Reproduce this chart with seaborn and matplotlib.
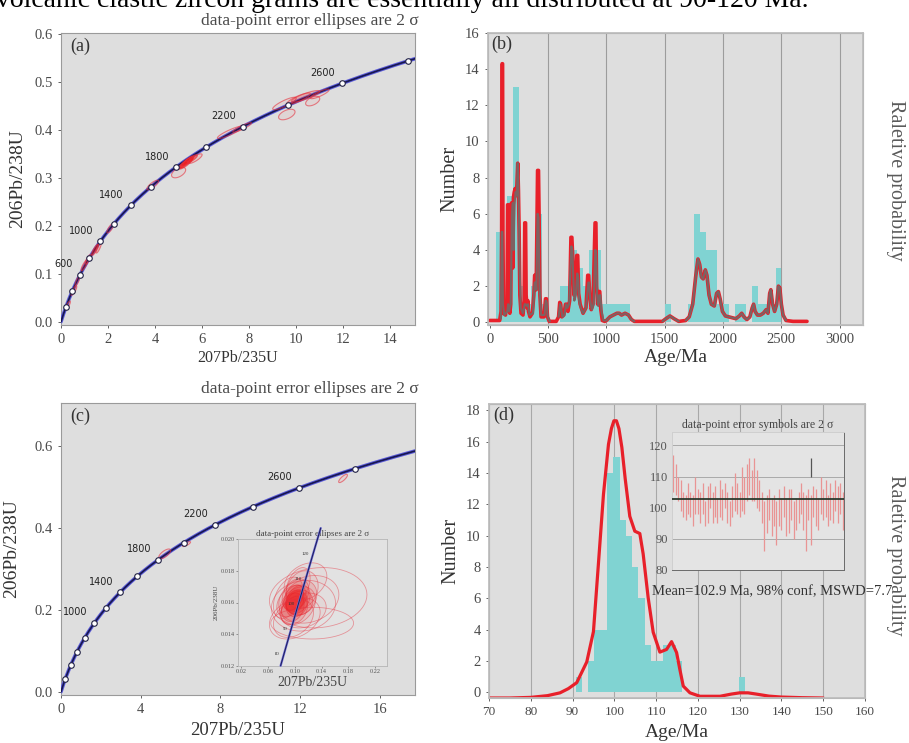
import numpy as np
import pandas as pd
import matplotlib
matplotlib.use("Agg")
import matplotlib.pyplot as plt
import seaborn as sns

# decay constants (1/yr) that define the concordia curve
LAMBDA_238 = 1.55125e-10
LAMBDA_235 = 9.8485e-10

# concordia age marks (Ma)
marker_ages = [200, 400, 600, 800, 1000, 1200, 1400, 1600, 1800, 2000, 2200, 2400, 2600, 2800]
labelled_ages = [600, 1000, 1400, 1800, 2200, 2600]
inset_marker_ages = [80, 90, 100, 110, 120]

# error ellipses: x, y, sx, sy, rho, fill alpha
ellipses_a = [
    (0.30, 0.035, 0.10, 0.008, 0.8, 0.1), (0.55, 0.065, 0.12, 0.010, 0.8, 0.3),
    (0.70, 0.085, 0.10, 0.010, 0.8, 0.1), (1.00, 0.118, 0.15, 0.012, 0.85, 0.3),
    (1.15, 0.130, 0.12, 0.010, 0.8, 0.1), (1.45, 0.150, 0.15, 0.012, 0.85, 0.5),
    (1.60, 0.155, 0.12, 0.012, 0.8, 0.2), (2.10, 0.195, 0.15, 0.010, 0.8, 0.1),
    (3.90, 0.285, 0.25, 0.010, 0.8, 0.05), (5.00, 0.311, 0.30, 0.011, 0.5, 0.05),
    (5.30, 0.330, 0.30, 0.012, 0.85, 0.6), (5.40, 0.335, 0.25, 0.010, 0.85, 0.6),
    (5.50, 0.338, 0.30, 0.010, 0.85, 0.5), (5.20, 0.327, 0.20, 0.008, 0.85, 0.6),
    (5.70, 0.340, 0.30, 0.010, 0.8, 0.1), (7.20, 0.395, 0.55, 0.013, 0.9, 0.05),
    (7.70, 0.405, 0.40, 0.010, 0.9, 0.05), (9.50, 0.455, 0.50, 0.013, 0.85, 0.05),
    (9.60, 0.432, 0.35, 0.011, 0.5, 0.05), (10.1, 0.465, 0.50, 0.012, 0.85, 0.15),
    (10.4, 0.470, 0.60, 0.012, 0.85, 0.15), (10.7, 0.460, 0.30, 0.010, 0.5, 0.05),
    (11.0, 0.475, 0.40, 0.010, 0.85, 0.05),
]
ellipses_c = [(5.2, 0.336, 0.30, 0.012, 0.7, 0.05), (6.3, 0.360, 0.20, 0.006, 0.8, 0.05),
              (14.15, 0.520, 0.22, 0.010, 0.8, 0.05)]
ellipses_c_inset = [
    (0.100, 0.0161, 0.014, 0.0007, 0.3, 0.2), (0.103, 0.0159, 0.016, 0.0008, 0.2, 0.2),
    (0.098, 0.0163, 0.015, 0.0008, 0.4, 0.2), (0.105, 0.0162, 0.018, 0.0009, 0.3, 0.15),
    (0.097, 0.0157, 0.017, 0.0009, 0.2, 0.15), (0.107, 0.0160, 0.020, 0.0008, 0.1, 0.15),
    (0.101, 0.0165, 0.020, 0.0010, 0.3, 0.1), (0.099, 0.0155, 0.020, 0.0009, 0.3, 0.1),
    (0.109, 0.0163, 0.024, 0.0011, 0.2, 0.1), (0.095, 0.0161, 0.022, 0.0010, 0.4, 0.1),
    (0.104, 0.0158, 0.027, 0.0012, 0.3, 0.08), (0.111, 0.0168, 0.024, 0.0012, 0.2, 0.05),
    (0.105, 0.0171, 0.018, 0.0011, 0.4, 0.05), (0.113, 0.0155, 0.034, 0.0011, 0.2, 0.03),
    (0.098, 0.0150, 0.030, 0.0012, 0.3, 0.03), (0.121, 0.0162, 0.045, 0.0015, 0.2, 0.02),
    (0.135, 0.0163, 0.073, 0.0019, 0.1, 0.0), (0.126, 0.0147, 0.062, 0.0010, 0.0, 0.0),
    (0.100, 0.0150, 0.038, 0.0013, 0.3, 0.0), (0.116, 0.0173, 0.032, 0.0012, 0.3, 0.03),
    (0.113, 0.0158, 0.048, 0.0016, 0.1, 0.0), (0.090, 0.0163, 0.022, 0.0013, 0.4, 0.05),
]

# (b) histogram, 50 Ma bins from 0 Ma
b_bin_width = 50
b_counts = [0, 5, 1, 7, 13, 2, 1, 2, 6, 1,
            0, 0, 2, 2, 4, 3, 2, 4, 4, 1,
            1, 1, 1, 1, 0, 0, 0, 0, 0, 0,
            1, 0, 0, 0, 1, 6, 5, 4, 4, 1,
            1, 0, 1, 1, 0, 2, 1, 1, 1, 3, 0]

# (b) probability curves (age Ma, value)
b_young_red_age = [0, 85, 97, 102, 106, 110, 113, 118, 135, 148, 153, 160, 165, 172, 180, 186, 192,
                   197, 203, 210, 218, 225, 233, 240, 246, 252, 258, 268, 285, 295, 300, 307, 312,
                   320, 326, 332, 345, 365, 378, 385, 392, 398, 405, 410, 418, 423, 430, 440, 465,
                   478, 486, 495, 510, 570, 590, 600, 608, 618, 635, 650, 660, 670, 685, 696, 704,
                   712, 722, 735, 746, 754, 762, 775, 800, 825, 840, 848, 858, 870, 885, 897, 903,
                   910, 916, 925, 935, 943, 952, 965, 985]
b_young_red_val = [0.1, 0.1, 0.6, 5.0, 14.3, 14.3, 5.0, 0.5, 0.4, 1.0, 6.5, 6.5, 1.0, 0.5, 1.0, 6.6, 6.6,
                   3.0, 6.9, 7.2, 7.4, 7.0, 7.6, 8.8, 7.3, 5.0, 1.5, 0.5, 0.4, 1.2, 5.5, 5.5, 1.5,
                   0.8, 1.2, 0.6, 0.3, 0.5, 1.5, 2.6, 2.6, 1.8, 5.5, 8.4, 8.4, 6.0, 1.5, 0.3, 0.3,
                   1.3, 1.3, 0.3, 0.05, 0.05, 0.3, 1.1, 1.0, 0.3, 0.4, 1.0, 1.0, 0.6, 1.2, 4.7, 4.7,
                   3.5, 1.5, 2.0, 3.7, 3.7, 1.6, 1.0, 0.5, 0.8, 2.6, 2.6, 1.4, 0.7, 1.0, 4.0, 5.5,
                   5.5, 2.0, 1.0, 1.7, 1.7, 0.7, 0.1, 0.05]
b_gray_young_age = [95, 103, 108, 113, 125, 150, 158, 165, 180, 190, 198, 205, 212, 222, 232, 240, 248,
                    256, 265, 285, 300, 308, 320, 328, 340, 370, 385, 393, 400, 410, 418, 426, 440,
                    470, 480, 488, 497, 515]
b_gray_young_val = [0.2, 5.0, 5.0, 1.0, 0.4, 0.6, 1.0, 0.6, 1.0, 6.0, 6.6, 4.0, 6.5, 7.2, 7.0, 8.8, 7.0,
                    3.0, 0.8, 0.5, 1.0, 1.0, 0.9, 1.0, 0.4, 0.5, 2.2, 2.2, 1.8, 6.0, 5.8, 2.0, 0.4,
                    0.4, 1.2, 1.1, 0.3, 0.05]
b_gray_mid_age = [590, 603, 612, 622, 640, 655, 665, 680, 692, 700, 708, 716, 725, 738, 750, 758, 766,
                  780, 800, 825, 845, 852, 862, 875, 890, 905, 912, 920, 930, 940, 948, 958, 975]
b_gray_mid_val = [0.3, 1.0, 0.8, 0.3, 0.4, 1.0, 0.8, 1.0, 3.0, 4.2, 4.0, 2.5, 1.2, 1.5, 2.7, 2.5, 1.2,
                  0.8, 0.5, 0.8, 2.2, 2.2, 1.2, 0.7, 1.0, 4.0, 3.8, 1.5, 0.9, 1.5, 1.5, 0.6, 0.1]
b_bump_age = [1000, 1030, 1060, 1090, 1110, 1130, 1160, 1190, 1215, 1240]
b_bump_val = [0.1, 0.3, 0.4, 0.5, 0.5, 0.4, 0.5, 0.4, 0.15, 0.05]
b_1500_age = [1480, 1510, 1545, 1580, 1620]
b_1500_val = [0.05, 0.2, 0.35, 0.2, 0.05]
b_old_age = [1680, 1710, 1740, 1765, 1785, 1800, 1815, 1830, 1848, 1862, 1880, 1900, 1925, 1945,
             1960, 1975, 1995, 2020, 2050, 2080, 2110, 2140, 2160, 2180, 2205, 2230, 2250, 2262,
             2275, 2295, 2320, 2345, 2370, 2385, 2400, 2410, 2425, 2442, 2460, 2475, 2487, 2500,
             2515, 2540]
b_old_val = [0.1, 0.3, 1.0, 2.5, 3.5, 3.2, 2.5, 2.4, 2.9, 2.6, 1.5, 1.0, 0.9, 1.6,
             1.7, 1.3, 0.6, 0.35, 0.3, 0.25, 0.2, 0.35, 0.5, 0.3, 0.15, 0.3, 0.8, 1.0,
             0.6, 0.4, 0.4, 0.5, 0.7, 0.5, 1.6, 1.8, 1.0, 0.6, 1.0, 2.0, 1.9, 1.0,
             0.4, 0.1]
b_tail_age = [2600, 2720]
b_tail_val = [0.05, 0.05]

# (d) histogram, 1.5 Ma bins from 90.75 Ma
d_bin_start = 90.75
d_bin_width = 1.5
d_counts = [1, 0, 2, 4, 4, 14, 15, 11, 10, 8, 6, 3, 2, 2, 3, 3, 2,
            0, 0, 0, 0, 0, 0, 0, 0, 0, 1]

# (d) probability curve (age Ma, value above axis bottom)
d_curve_age = [70, 75, 80, 84, 87, 89, 91, 93.4, 95, 96.2, 97.4, 98.6, 99.3, 99.9, 100.5, 101.1,
               101.8, 102.6, 103.7, 104.9, 106.1, 106.9, 108.1, 109.3, 110.9, 112.5, 113.7,
               114.9, 115.7, 116.5, 118.1, 120.5, 125.3, 128, 130, 132, 134, 137, 140, 145, 150]
d_curve_val = [0.0, 0.0, 0.04, 0.15, 0.33, 0.6, 0.98, 2.3, 4.24, 8.6, 13.0, 16.2, 17.2, 17.7, 17.7,
               17.2, 16.0, 14.0, 11.6, 10.65, 10.5, 9.2, 6.4, 4.2, 2.93, 3.1, 3.6,
               2.9, 1.8, 0.76, 0.33, 0.11, 0.11, 0.25, 0.33, 0.33, 0.25, 0.12, 0.06, 0.02, 0.0]

# (d) inset: weighted mean plot, 2 sigma bars
err_center = [111, 109, 106, 104, 101, 100, 103, 101, 99, 104,
              102, 100, 103, 98, 101, 104, 100, 102, 99, 103,
              101, 104, 100, 98, 102, 105, 103, 101, 106, 104,
              108, 110, 107, 109, 106, 104, 100, 94, 98, 101,
              97, 99, 95, 100, 98, 102, 97, 99, 101, 96,
              98, 100, 103, 99, 95, 101, 96, 102, 100, 98,
              104, 101, 103, 99, 102, 100, 104, 101, 103, 99]
err_half = [6, 5, 4, 5, 4, 4, 5, 4, 5, 6,
            4, 5, 5, 4, 6, 4, 5, 5, 4, 6,
            5, 4, 5, 4, 5, 6, 5, 4, 7, 6,
            6, 6, 5, 7, 6, 5, 5, 8, 6, 5,
            6, 5, 7, 6, 5, 5, 6, 7, 5, 6,
            5, 5, 5, 6, 9, 5, 8, 5, 6, 5,
            6, 5, 6, 5, 6, 5, 5, 6, 5, 6]
rejected_x = [56.5]
rejected_lo = [110]
rejected_hi = [116]
mean_age = 102.9

BG = "#dedede"
CYAN = "#80d3d2"
RED = "#e8202a"
GRAY_LINE = "#7d6262"
TXT = "#4a4a4a"


def concordia(age_ma):
    t = np.asarray(age_ma, dtype=float) * 1e6
    return np.exp(LAMBDA_235 * t) - 1, np.exp(LAMBDA_238 * t) - 1


def ellipse_xy(cx, cy, sx, sy, rho, n=60):
    t = np.linspace(0, 2 * np.pi, n)
    return cx + sx * np.cos(t), cy + sy * (rho * np.cos(t) + np.sqrt(1 - rho ** 2) * np.sin(t))


def style_axes(ax, bg=BG):
    ax.set_facecolor(bg)
    for s in ax.spines.values():
        s.set_color("#9a9a9a")
        s.set_linewidth(0.8)
    ax.tick_params(colors=TXT, labelsize=10.5, length=2.5, width=0.6)


sns.set_theme(style="ticks")
plt.rcParams["font.family"] = ["Liberation Serif", "DejaVu Serif"]

fig = plt.figure(figsize=(9.09, 7.43), dpi=100)
W, H = 909, 743


def box(l, t, r, b):
    return [l / W, 1 - b / H, (r - l) / W, (b - t) / H]


# the sentence above the figure, cut by the top edge as in the source
fig.text(-0.004, 1 - 7 / H, "volcanic clastic zircon grains are essentially all distributed at 90-120 Ma.",
         fontsize=20, color="black", va="baseline", ha="left")


def draw_concordia(ax, max_age, labels, fs=7):
    x, y = concordia(np.linspace(0, max_age, 400))
    sns.lineplot(x=x, y=y, ax=ax, color="#5a5ad8", lw=2.6, sort=False, estimator=None, zorder=3)
    sns.lineplot(x=x, y=y, ax=ax, color="#17174f", lw=1.2, sort=False, estimator=None, zorder=4)
    mx, my = concordia(marker_ages)
    sns.scatterplot(x=mx, y=my, ax=ax, s=16, color="white", edgecolor="#222244",
                    linewidth=0.8, zorder=6)
    for a in labels:
        lx, ly = concordia(a)
        ax.annotate(str(a), (lx, ly), xytext=(-5, 4), textcoords="offset points",
                    ha="right", va="bottom", fontsize=fs, family="DejaVu Sans", color="#222222")


def draw_ellipses(ax, ells, edge_alpha=0.6, lw=0.8):
    for cx, cy, sx, sy, rho, fa in ells:
        ex, ey = ellipse_xy(cx, cy, sx, sy, rho)
        ax.fill(ex, ey, facecolor=(0.95, 0.1, 0.1, fa),
                edgecolor=(0.9, 0.2, 0.25, edge_alpha), lw=lw, zorder=5)


# ---------------- (a)
ax_a = fig.add_axes(box(61, 33, 415, 325))
style_axes(ax_a)
draw_ellipses(ax_a, ellipses_a)
draw_concordia(ax_a, 2900, labelled_ages)
ax_a.set_xlim(0, 15.05)
ax_a.set_ylim(-0.007, 0.602)
ax_a.set_xticks(range(0, 15, 2))
ax_a.set_yticks([0, 0.1, 0.2, 0.3, 0.4, 0.5, 0.6])
ax_a.set_yticklabels(["0.0", "0.1", "0.2", "0.3", "0.4", "0.5", "0.6"])
ax_a.set_xlabel("207Pb/235U", fontsize=11.5, color="#333333", labelpad=3)
ax_a.set_ylabel("206Pb/238U", fontsize=14, color="#333333", labelpad=6)
ax_a.text(0.025, 0.985, "(a)", transform=ax_a.transAxes, fontsize=13, va="top", color="#333333")
ax_a.text(1.01, 1.015, "data-point error ellipses are 2 \u03c3", transform=ax_a.transAxes,
          ha="right", va="bottom", fontsize=12.5, color="#4a4a4a")

# ---------------- (b)
ax_b = fig.add_axes(box(488, 33, 863, 325))
style_axes(ax_b)
ax_b.set_axisbelow(True)
for gx in range(500, 3001, 500):
    ax_b.axvline(gx, color="#9c9c9c", lw=0.8, zorder=0)
b_df = pd.DataFrame({"age": np.arange(len(b_counts)) * b_bin_width + b_bin_width / 2,
                     "n": b_counts})
sns.histplot(data=b_df, x="age", weights="n", binwidth=b_bin_width,
             binrange=(0, b_bin_width * len(b_counts)), ax=ax_b, color=CYAN,
             alpha=1, linewidth=0, zorder=2)
ax_b.set_xlim(-15, 3200)
ax_b.set_ylim(-0.15, 16)
ax_b.set_xticks(range(0, 3001, 500))
ax_b.set_yticks(range(0, 17, 2))
ax_b.set_xlabel("Age/Ma", fontsize=14, color="#333333", labelpad=2)
ax_b.set_ylabel("Number", fontsize=14.5, color="#333333", labelpad=4)
ax_b.text(0.01, 0.99, "(b)", transform=ax_b.transAxes, fontsize=13, va="top", color="#333333")

ax_b2 = ax_b.twinx()
ax_b2.set_ylim(-0.15, 16)
ax_b2.set_yticks([])
ax_b2.set_ylabel("")
for s in ax_b2.spines.values():
    s.set_color("#bdbdbd")
red_age = b_young_red_age + b_bump_age + b_1500_age + b_old_age + b_tail_age
red_val = b_young_red_val + b_bump_val + b_1500_val + b_old_val + b_tail_val
sns.lineplot(x=red_age, y=red_val, ax=ax_b2, color=RED, lw=2.6, estimator=None, sort=False)
for ga, gv in [(b_gray_young_age, b_gray_young_val), (b_gray_mid_age + b_bump_age, b_gray_mid_val + b_bump_val),
               (b_1500_age, b_1500_val), (b_old_age, b_old_val)]:
    sns.lineplot(x=ga, y=gv, ax=ax_b2, color=GRAY_LINE, lw=1.5, estimator=None, sort=False)
fig.text(0.985, 1 - 180 / H, "Raletive probability", rotation=270, fontsize=14.5,
         color="#5a5a5a", ha="center", va="center")

# ---------------- (c)
ax_c = fig.add_axes(box(61, 403, 415, 695))
style_axes(ax_c)
draw_ellipses(ax_c, ellipses_c)
draw_concordia(ax_c, 3000, labelled_ages[1:])
ax_c.set_xlim(0, 17.76)
ax_c.set_ylim(-0.008, 0.704)
ax_c.set_xticks([0, 4, 8, 12, 16])
ax_c.set_yticks([0, 0.2, 0.4, 0.6])
ax_c.set_yticklabels(["0.0", "0.2", "0.4", "0.6"])
ax_c.set_xlabel("207Pb/235U", fontsize=13.5, color="#333333", labelpad=4)
ax_c.set_ylabel("206Pb/238U", fontsize=14, color="#333333", labelpad=10)
ax_c.text(0.025, 0.985, "(c)", transform=ax_c.transAxes, fontsize=13, va="top", color="#333333")
ax_c.text(1.01, 1.02, "data-point error ellipses are 2 \u03c3", transform=ax_c.transAxes,
          ha="right", va="bottom", fontsize=12.5, color="#4a4a4a")

ins_c = fig.add_axes(box(238, 539, 387, 666))
ins_c.set_facecolor("#e2e2e2")
for s in ins_c.spines.values():
    s.set_color("#b5b5b5")
    s.set_linewidth(0.6)
draw_ellipses(ins_c, ellipses_c_inset, edge_alpha=0.45, lw=0.6)
cx_line, cy_line = concordia(np.linspace(77, 132, 50))
ins_c.plot(cx_line, cy_line, color="#6a6ad8", lw=1.6, clip_on=False, zorder=6)
ins_c.plot(cx_line, cy_line, color="#1d1d55", lw=0.7, clip_on=False, zorder=7)
for a in inset_marker_ages:
    px, py = concordia(a)
    ins_c.text(px - 0.004, py + 0.0002, str(a), fontsize=3.5, ha="right", color="#333333", zorder=8)
ins_c.set_xlim(0.015, 0.238)
ins_c.set_ylim(0.012, 0.020)
ins_c.set_xticks([0.02, 0.06, 0.10, 0.14, 0.18, 0.22])
ins_c.set_yticks([0.012, 0.014, 0.016, 0.018, 0.020])
ins_c.tick_params(labelsize=4.5, colors="#555555", length=1.5, width=0.4, pad=1)
ins_c.set_xlabel("207Pb/235U", fontsize=10, color="#444444", labelpad=1)
ins_c.set_ylabel("206Pb/238U", fontsize=5, color="#444444", labelpad=1)
ins_c.set_title("data-point error ellipses are 2 \u03c3", fontsize=6.5, color="#444444", pad=2)

# ---------------- (d)
ax_d = fig.add_axes(box(489, 404, 865, 698))
style_axes(ax_d)
ax_d.set_axisbelow(True)
for gx in range(80, 151, 10):
    ax_d.axvline(gx, color="#a8a8a8", lw=0.8, zorder=0)
d_df = pd.DataFrame({"age": d_bin_start + d_bin_width * (np.arange(len(d_counts)) + 0.5),
                     "n": d_counts})
sns.histplot(data=d_df, x="age", weights="n", binwidth=d_bin_width,
             binrange=(d_bin_start, d_bin_start + d_bin_width * len(d_counts)), ax=ax_d,
             color=CYAN, alpha=1, linewidth=0, zorder=2)
ax_d.set_xlim(70, 160)
ax_d.set_ylim(-0.37, 18.4)
ax_d.set_xticks(range(70, 161, 10))
ax_d.set_yticks(range(0, 19, 2))
ax_d.tick_params(axis="x", labelsize=9.5)
ax_d.set_xlabel("Age/Ma", fontsize=14, color="#333333", labelpad=4)
ax_d.set_ylabel("Number", fontsize=14.5, color="#333333", labelpad=4)
ax_d.text(0.01, 0.99, "(d)", transform=ax_d.transAxes, fontsize=13, va="top", color="#333333")

ax_d2 = ax_d.twinx()
ax_d2.set_ylim(0, 18.77)
ax_d2.set_yticks([])
ax_d2.set_ylabel("")
for s in ax_d2.spines.values():
    s.set_color("#bdbdbd")
sns.lineplot(x=d_curve_age, y=d_curve_val, ax=ax_d2, color=RED, lw=2.3, estimator=None, sort=False)
fig.text(0.985, 1 - 555 / H, "Raletive probability", rotation=270, fontsize=14.5,
         color="#5a5a5a", ha="center", va="center")
fig.text(652 / W, 1 - 592 / H, "Mean=102.9 Ma, 98% conf, MSWD=7.7", fontsize=10.5,
         color="#333333", ha="left", va="center")

ins_d = fig.add_axes(box(672, 432, 844, 570))
ins_d.set_facecolor("#e4e4e4")
for side, s in ins_d.spines.items():
    s.set_color("#6a6a6a" if side in ("right", "bottom") else "#cfcfcf")
    s.set_linewidth(0.7)
for gy in [90, 110, 120]:
    ins_d.axhline(gy, color="#a0a0a0", lw=0.6, zorder=1)
idx = np.arange(len(err_center)) + 0.5
lo = np.array(err_center) - np.array(err_half)
hi = np.array(err_center) + np.array(err_half)
ins_d.vlines(idx, lo, hi, color="#e99494", lw=0.9, zorder=2)
ins_d.vlines(rejected_x, rejected_lo, rejected_hi, color="#555555", lw=0.9, zorder=3)
ins_d.axhline(mean_age, color="#2c3a2e", lw=1.3, zorder=4)
ins_d.set_xlim(0, len(err_center))
ins_d.set_ylim(80, 124.3)
ins_d.set_xticks([])
ins_d.set_yticks([80, 90, 100, 110, 120])
ins_d.tick_params(labelsize=9, colors="#555555", length=0, pad=3)
ins_d.set_title("data-point error symbols are 2 \u03c3", fontsize=8.5, color="#444444", pad=3)

fig.savefig("out.png", dpi=100)
